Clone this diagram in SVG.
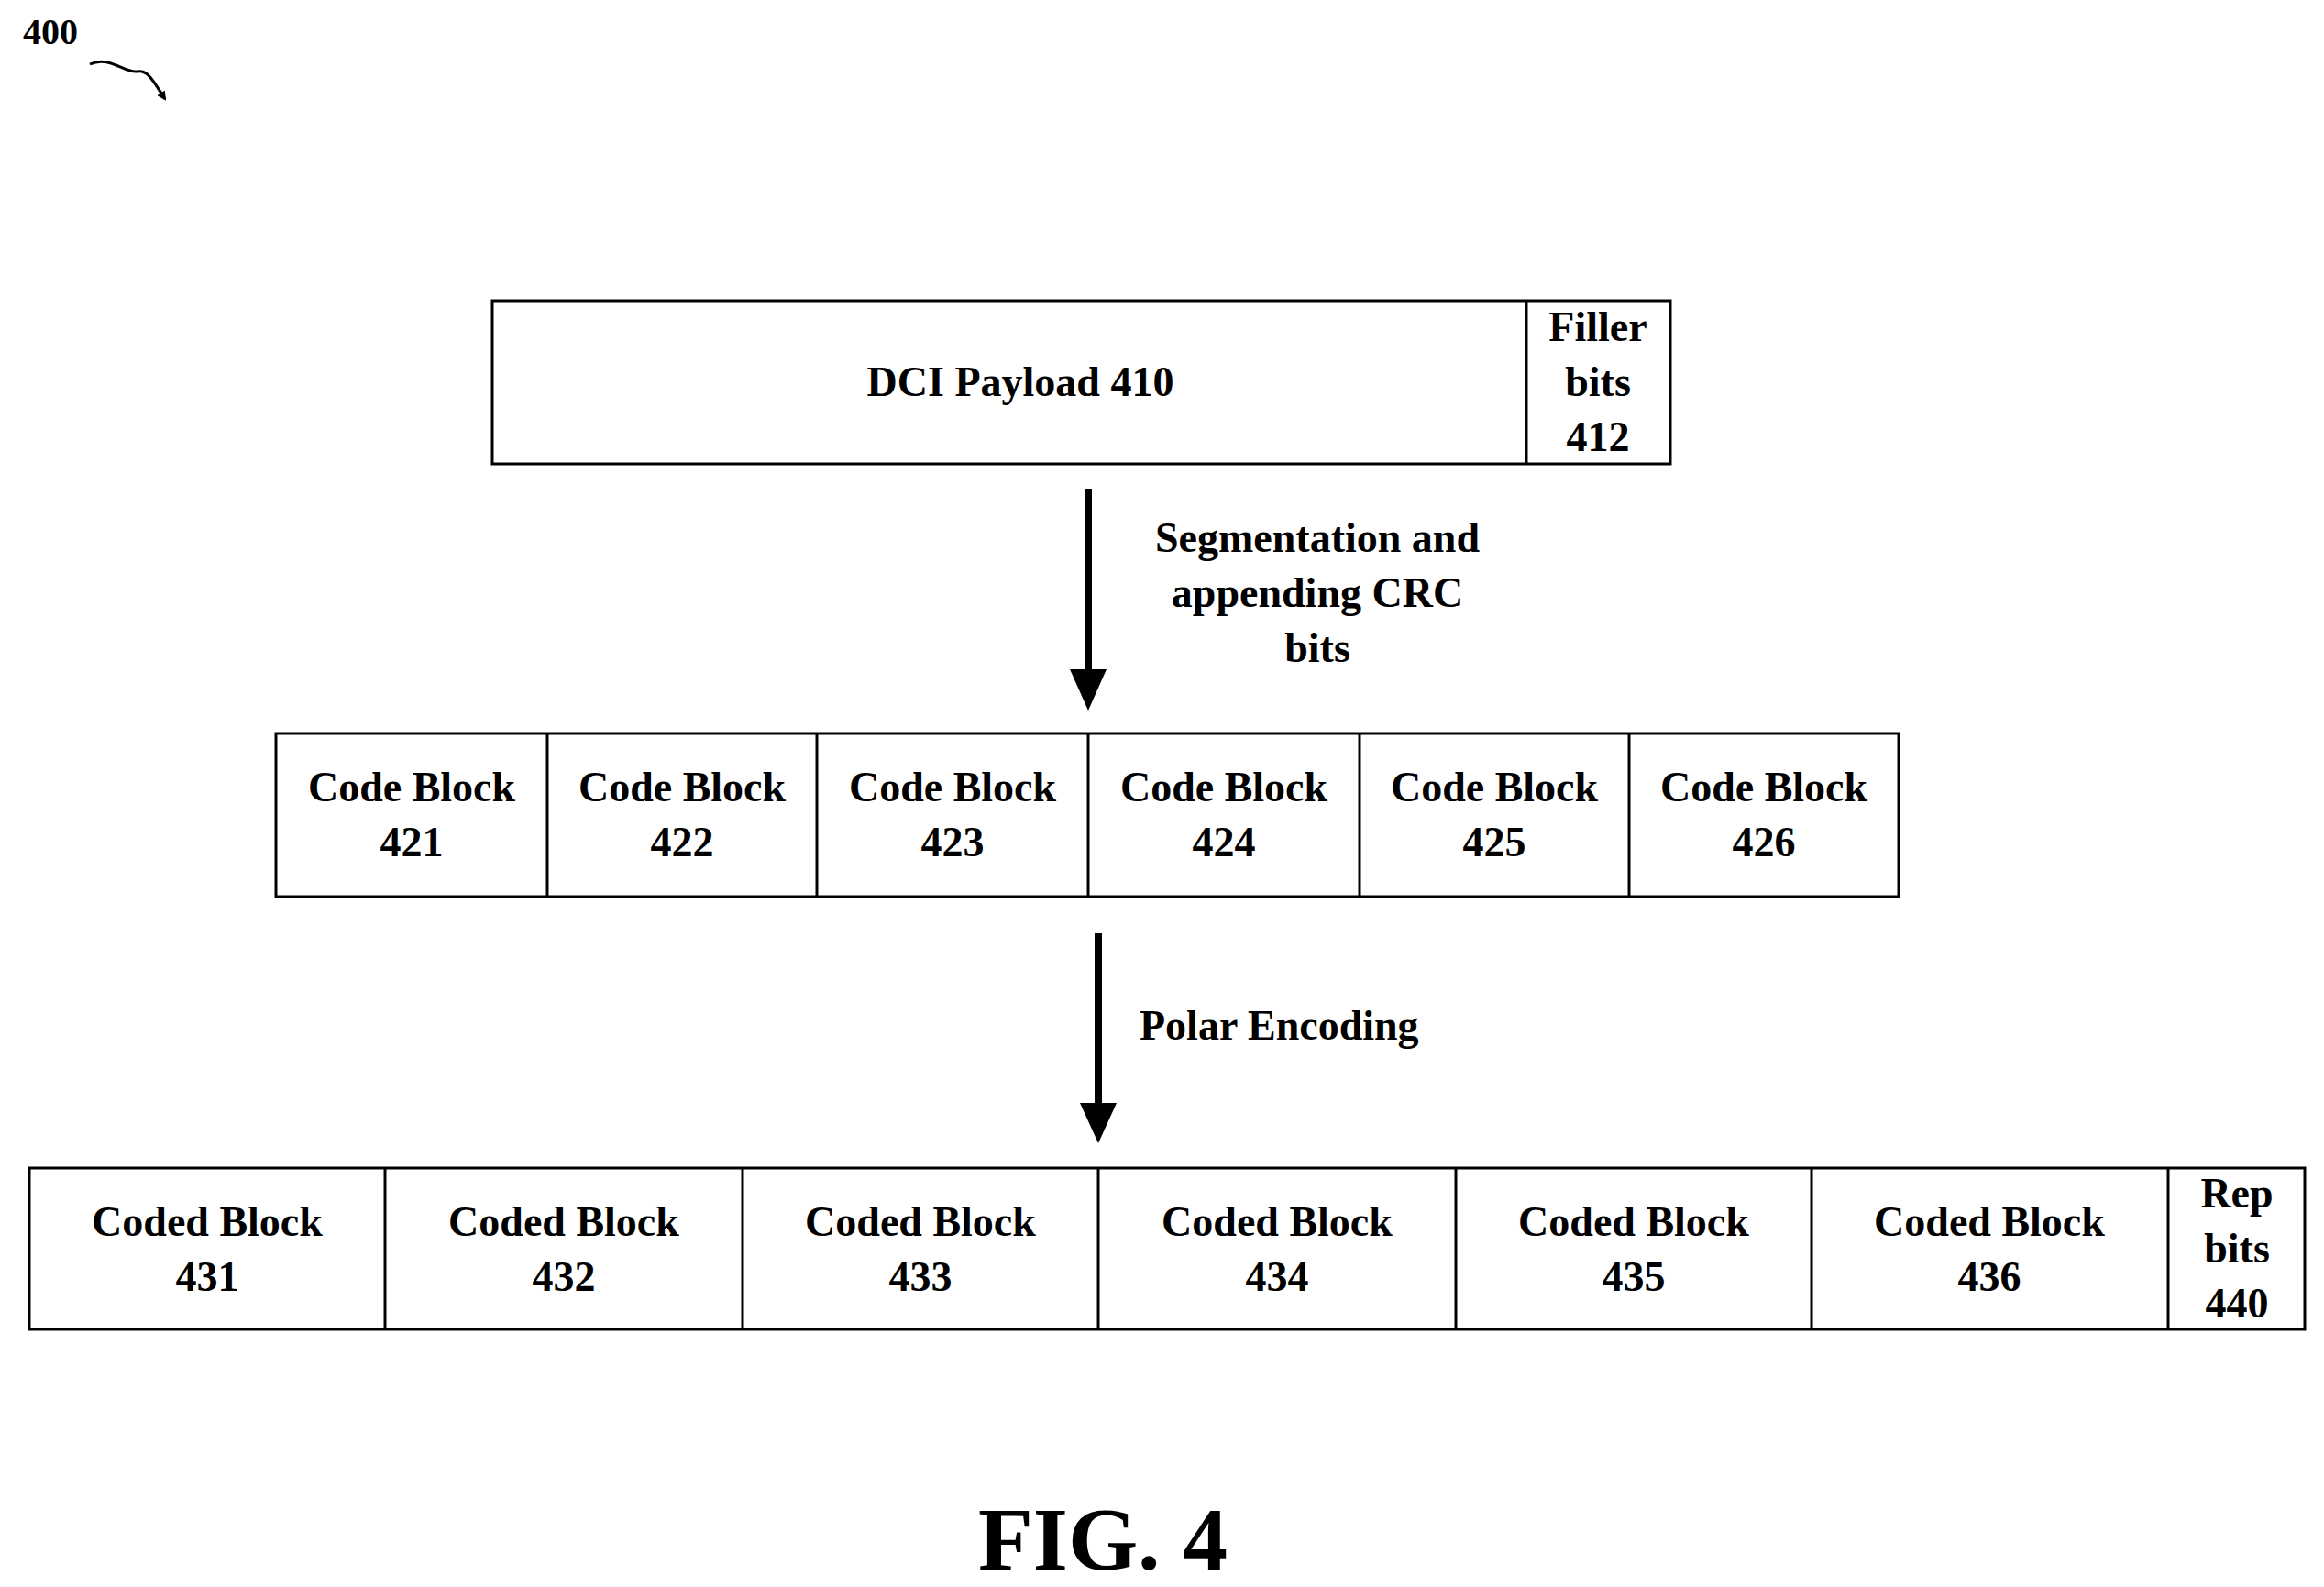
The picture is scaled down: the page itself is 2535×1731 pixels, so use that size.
<svg xmlns="http://www.w3.org/2000/svg" width="2535" height="1731" viewBox="0 0 2535 1731">
<style>
.b{fill:#fff;stroke:#000;stroke-width:3}
.l{stroke:#000;stroke-width:3}
text{font-family:"Liberation Serif",serif;font-weight:bold;font-size:46px;text-anchor:middle;fill:#000}
</style>
<defs>
<marker id="ah" markerWidth="6" markerHeight="6" refX="5" refY="3" orient="auto"><path d="M0,0L6,3L0,6z" fill="#000"/></marker>
<marker id="sm" markerWidth="10" markerHeight="10" refX="8" refY="5" orient="auto" markerUnits="userSpaceOnUse"><path d="M0,0L10,5L0,10z" fill="#000"/></marker>
</defs>
<rect width="2535" height="1731" fill="#fff"/>
<g id="label400"><text x="55" y="48" font-size="40" style="font-size:40px">400</text>
<path d="M98,70 C120,60 135,80 150,78 C162,76 168,90 180,108" fill="none" stroke="#000" stroke-width="3" marker-end="url(#sm)"/></g>
<g id="payload"><rect class="b" x="537" y="328" width="1285" height="178"/><line class="l" x1="1665" y1="328" x2="1665" y2="506"/>
<text x="1113" y="432">DCI Payload 410</text>
<text x="1743" y="372">Filler</text><text x="1743" y="432">bits</text><text x="1743" y="492">412</text></g>
<g id="codeblocks"><rect class="b" x="301" y="800" width="1770" height="178"/>
<g class="l"><line x1="597" y1="800" x2="597" y2="978"/><line x1="891" y1="800" x2="891" y2="978"/><line x1="1187" y1="800" x2="1187" y2="978"/><line x1="1483" y1="800" x2="1483" y2="978"/><line x1="1777" y1="800" x2="1777" y2="978"/></g>
<text x="449" y="874">Code Block</text><text x="449" y="934">421</text>
<text x="744" y="874">Code Block</text><text x="744" y="934">422</text>
<text x="1039" y="874">Code Block</text><text x="1039" y="934">423</text>
<text x="1335" y="874">Code Block</text><text x="1335" y="934">424</text>
<text x="1630" y="874">Code Block</text><text x="1630" y="934">425</text>
<text x="1924" y="874">Code Block</text><text x="1924" y="934">426</text></g>
<g id="codedblocks"><rect class="b" x="32" y="1274" width="2482" height="176"/>
<g class="l"><line x1="420" y1="1274" x2="420" y2="1450"/><line x1="810" y1="1274" x2="810" y2="1450"/><line x1="1198" y1="1274" x2="1198" y2="1450"/><line x1="1588" y1="1274" x2="1588" y2="1450"/><line x1="1976" y1="1274" x2="1976" y2="1450"/><line x1="2365" y1="1274" x2="2365" y2="1450"/></g>
<text x="226" y="1348">Coded Block</text><text x="226" y="1408">431</text>
<text x="615" y="1348">Coded Block</text><text x="615" y="1408">432</text>
<text x="1004" y="1348">Coded Block</text><text x="1004" y="1408">433</text>
<text x="1393" y="1348">Coded Block</text><text x="1393" y="1408">434</text>
<text x="1782" y="1348">Coded Block</text><text x="1782" y="1408">435</text>
<text x="2170" y="1348">Coded Block</text><text x="2170" y="1408">436</text>
<text x="2440" y="1317">Rep</text><text x="2440" y="1377">bits</text><text x="2440" y="1437">440</text></g>
<g id="connectors">
<line x1="1187" y1="533" x2="1187" y2="730" stroke="#000" stroke-width="8"/><path d="M1167,730L1207,730L1187,775z"/>
<line x1="1198" y1="1018" x2="1198" y2="1203" stroke="#000" stroke-width="8"/><path d="M1178,1203L1218,1203L1198,1247z"/>
</g>
<g id="labels">
<text x="1437" y="602">Segmentation and</text><text x="1437" y="662">appending CRC</text><text x="1437" y="722">bits</text>
<text x="1243" y="1134" style="text-anchor:start">Polar Encoding</text>
<text x="1203" y="1712" style="font-size:98px">FIG. 4</text></g>
</svg>
